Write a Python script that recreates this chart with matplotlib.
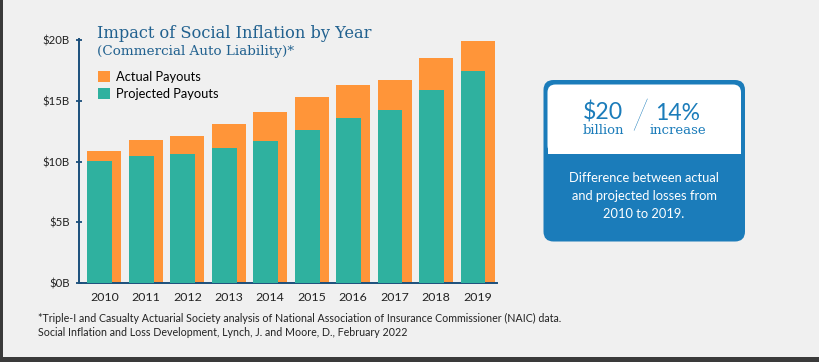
import matplotlib
matplotlib.use("Agg")
import matplotlib.pyplot as plt
from matplotlib.patches import FancyBboxPatch, Rectangle

# -------------------------------
# DATOS (miles de millones USD)
# -------------------------------
years = ["2010", "2011", "2012", "2013", "2014", "2015", "2016", "2017", "2018", "2019"]
actual = [10.87, 11.75, 12.08, 13.09, 14.1, 15.31, 16.3, 16.7, 18.5, 19.9]
projected = [10.05, 10.46, 10.62, 11.12, 11.69, 12.62, 13.61, 14.27, 15.86, 17.47]
yticks = [0, 5, 10, 15, 20]
ytick_labels = ["$0B", "$5B", "$10B", "$15B", "$20B"]

ORANGE = "#FF9539"
TEAL = "#2FB19F"
NAVY = "#1B4F7B"
TITLE = "#21618F"
BLUE = "#1B7CBA"
BG = "#F0F0F0"
SANS = ["Lato", "DejaVu Sans"]
SLAB = ["DejaVu Serif"]

W, H = 819, 362
fig = plt.figure(figsize=(W / 100, H / 100), dpi=100, facecolor=BG)

# -------------------------------
# BARRAS
# -------------------------------
ax = fig.add_axes([78.7 / W, 1 - 283.3 / H, 418.3 / W, 244.5 / H])
ax.set_facecolor(BG)
x = list(range(len(years)))
w_act = 0.82
w_proj = 0.6
ax.bar(x, actual, width=w_act, color=ORANGE, label="Actual Payouts", zorder=2)
ax.bar([i - w_act / 2 for i in x], projected, width=w_proj, align="edge",
       color=TEAL, label="Projected Payouts", zorder=3)

ax.set_xlim(-0.62, 9.47)
ax.set_ylim(0, 20.1)
ax.set_xticks(x)
ax.set_xticklabels(years, fontsize=8.9, family=SANS, color="#222222")
ax.set_yticks(yticks)
ax.set_yticklabels(ytick_labels, fontsize=8.2, family=SANS, color="#222222")
ax.tick_params(axis="x", length=0, pad=6)
ax.tick_params(axis="y", direction="inout", length=5, width=1.3, color=NAVY, pad=4)
for s in ["top", "right"]:
    ax.spines[s].set_visible(False)
for s in ["left", "bottom"]:
    ax.spines[s].set_color(NAVY)
    ax.spines[s].set_linewidth(1.4)

leg = ax.legend(loc="upper left", bbox_to_anchor=(98 / W, 1 - 71 / H),
                bbox_transform=fig.transFigure, frameon=False,
                prop={"family": SANS, "size": 9.3}, handlelength=0.93,
                handleheight=0.9, handletextpad=0.5, labelspacing=0.36,
                borderpad=0, borderaxespad=0)

# -------------------------------
# TEXTOS Y CAJA (capa superpuesta en píxeles)
# -------------------------------
ov = fig.add_axes([0, 0, 1, 1], zorder=5)
ov.set_xlim(0, W)
ov.set_ylim(H, 0)
ov.axis("off")

ov.text(97, 37.7, "Impact of Social Inflation by Year", family=SLAB, fontsize=11.7,
        color=TITLE, va="baseline")
ov.text(97, 54.5, "(Commercial Auto Liability)*", family=SLAB, fontsize=9.7,
        color=TITLE, va="baseline")

ov.text(38, 318, "*Triple-I and Casualty Actuarial Society analysis of National Association "
        "of Insurance Commissioner (NAIC) data.", family=SANS, fontsize=7.65,
        color="#222222", va="center")
ov.text(38, 332, "Social Inflation and Loss Development, Lynch, J. and Moore, D., February 2022",
        family=SANS, fontsize=7.65, color="#222222", va="center")

# caja azul
ov.add_patch(FancyBboxPatch((543.5, 80), 201.5, 161.5,
                            boxstyle="round,pad=0,rounding_size=10",
                            fc=BLUE, ec="none"))
ov.add_patch(FancyBboxPatch((547.5, 84.5), 193.5, 69,
                            boxstyle="round,pad=0,rounding_size=8",
                            fc="white", ec="none"))
ov.add_patch(Rectangle((547.5, 130), 193.5, 23.5, fc="white", ec="none"))

ov.text(603, 120, "$20", family=SANS, fontsize=16.6, color=BLUE, ha="center", va="baseline")
ov.text(677.5, 120, "14%", family=SANS, fontsize=16.6, color=BLUE, ha="center", va="baseline")
ov.text(603, 134.3, "billion", family=SLAB, fontsize=9.5, color=BLUE, ha="center", va="baseline")
ov.text(677.5, 134.3, "increase", family=SLAB, fontsize=9.5, color=BLUE, ha="center", va="baseline")
ov.text(639.5, 118, "/", family=SANS, fontsize=30, fontweight="light", color=BLUE,
        ha="center", va="center")

ov.text(644, 178, "Difference between actual", family=SANS, fontsize=9.3,
        color="white", ha="center", va="center")
ov.text(644, 196.5, "and projected losses from", family=SANS, fontsize=9.3,
        color="white", ha="center", va="center")
ov.text(644, 214.5, "2010 to 2019.", family=SANS, fontsize=9.3,
        color="white", ha="center", va="center")

# bordes oscuros de la captura
ov.add_patch(Rectangle((0, 0), 3, H, fc="#3A3A3A", ec="none"))
ov.add_patch(Rectangle((0, 357), W, 5, fc="#3A3A3A", ec="none"))

fig.savefig("out.png", dpi=100, facecolor=BG)
